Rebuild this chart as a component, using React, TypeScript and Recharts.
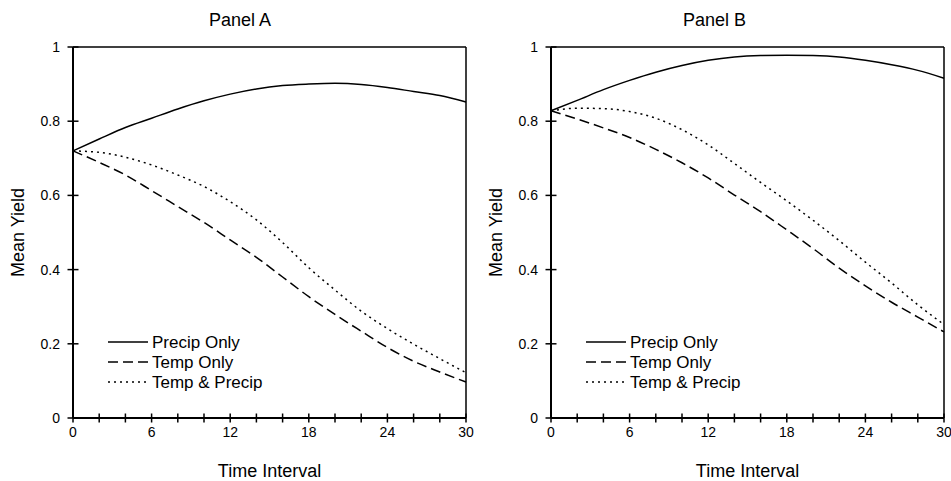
import React from 'react';
import { LineChart, Line, XAxis, YAxis, Legend, ReferenceLine } from 'recharts';

// time interval (x) and axis ticks
const TIME = [0, 2, 4, 6, 8, 10, 12, 14, 16, 18, 20, 22, 24, 26, 28, 30];
const X_TICKS = [0, 2, 4, 6, 8, 10, 12, 14, 16, 18, 20, 22, 24, 26, 28, 30];
const X_LABELED = [0, 6, 12, 18, 24, 30];
const Y_TICKS = [0, 0.2, 0.4, 0.6, 0.8, 1];

// Panel A mean yield
const A_PRECIP = [0.72, 0.752, 0.783, 0.808, 0.833, 0.855, 0.873, 0.887, 0.896, 0.9, 0.902, 0.899, 0.891, 0.88, 0.869, 0.852];
const A_TEMP = [0.72, 0.689, 0.655, 0.613, 0.57, 0.527, 0.48, 0.433, 0.38, 0.327, 0.279, 0.234, 0.19, 0.153, 0.124, 0.097];
const A_BOTH = [0.72, 0.716, 0.703, 0.682, 0.655, 0.624, 0.583, 0.534, 0.473, 0.405, 0.345, 0.288, 0.241, 0.199, 0.16, 0.122];

// Panel B mean yield
const B_PRECIP = [0.828, 0.856, 0.885, 0.91, 0.932, 0.95, 0.964, 0.973, 0.977, 0.978, 0.977, 0.973, 0.964, 0.952, 0.937, 0.916];
const B_TEMP = [0.828, 0.806, 0.782, 0.756, 0.724, 0.688, 0.647, 0.601, 0.556, 0.507, 0.457, 0.404, 0.356, 0.312, 0.272, 0.232];
const B_BOTH = [0.828, 0.835, 0.834, 0.826, 0.808, 0.777, 0.736, 0.686, 0.635, 0.585, 0.533, 0.478, 0.42, 0.364, 0.305, 0.252];

const SERIES = [
  { key: 'precip', name: 'Precip Only', dash: undefined },
  { key: 'temp', name: 'Temp Only', dash: '10 5' },
  { key: 'both', name: 'Temp & Precip', dash: '2 4' },
];

const FONT = '"Liberation Sans", Arial, sans-serif';

const buildRows = (precip: number[], temp: number[], both: number[]) =>
  TIME.map((t, i) => ({ t, precip: precip[i], temp: temp[i], both: both[i] }));

const XTick = (props: any) => {
  const { x, y, payload } = props;
  const show = X_LABELED.includes(payload.value);
  return (
    <g>
      <line x1={x} x2={x} y1={y - 4.5} y2={y + 4.5} stroke="#000" strokeWidth={1.5} />
      {show && (
        <text x={x} y={y + 19} textAnchor="middle" fontSize={14} fontFamily={FONT} fill="#000">
          {payload.value}
        </text>
      )}
    </g>
  );
};

const YTick = (props: any) => {
  const { x, y, payload } = props;
  return (
    <g>
      <line x1={x - 5.5} x2={x + 5.5} y1={y} y2={y} stroke="#000" strokeWidth={1.5} />
      <text x={x - 13} y={y + 5} textAnchor="end" fontSize={14} fontFamily={FONT} fill="#000">
        {payload.value}
      </text>
    </g>
  );
};

const LegendBox = () => (
  <svg width={180} height={62}>
    {SERIES.map((s, i) => (
      <g key={s.key}>
        <line x1={0} x2={40} y1={10 + i * 20} y2={10 + i * 20} stroke="#000" strokeWidth={1.5} strokeDasharray={s.dash} />
        <text x={44} y={16 + i * 20} fontSize={17} fontFamily={FONT} fill="#000">
          {s.name}
        </text>
      </g>
    ))}
  </svg>
);

interface PanelProps {
  title: string;
  left: number;
  width: number;
  right: number;
  data: Array<{ t: number; precip: number; temp: number; both: number }>;
}

const Panel: React.FC<PanelProps> = ({ title, left, width, right, data }) => (
  <div style={{ position: 'absolute', left, top: 0, width, height: 481 }}>
    <div
      style={{
        position: 'absolute',
        top: 10,
        left: 0,
        width,
        textAlign: 'center',
        fontFamily: FONT,
        fontSize: 18,
        lineHeight: '20px',
        color: '#000',
      }}
    >
      {title}
    </div>
    <LineChart
      width={width}
      height={481}
      data={data}
      margin={{ top: 47, right, bottom: 0, left: 0 }}
      style={{ fontFamily: FONT }}
    >
      <XAxis
        dataKey="t"
        type="number"
        domain={[0, 30]}
        ticks={X_TICKS}
        interval={0}
        height={63}
        tickSize={0}
        tickMargin={0}
        tickLine={false}
        tick={<XTick />}
        axisLine={{ stroke: '#000', strokeWidth: 2 }}
        label={{ value: 'Time Interval', position: 'insideBottom', offset: 4, fontSize: 18, fill: '#000' }}
      />
      <YAxis
        type="number"
        domain={[0, 1]}
        ticks={Y_TICKS}
        interval={0}
        width={73}
        tickSize={0}
        tickMargin={0}
        tickLine={false}
        tick={<YTick />}
        axisLine={{ stroke: '#000', strokeWidth: 2 }}
        label={{
          value: 'Mean Yield',
          angle: -90,
          position: 'insideLeft',
          offset: 18,
          fontSize: 18,
          fill: '#000',
          style: { textAnchor: 'middle' },
        }}
      />
      <ReferenceLine y={1} stroke="#000" strokeWidth={1.5} />
      <ReferenceLine x={30} stroke="#000" strokeWidth={1.5} />
      <Legend
        layout="vertical"
        align="center"
        verticalAlign="middle"
        content={<LegendBox />}
        wrapperStyle={{ position: 'absolute', left: 108, top: 332, width: 180, height: 62 }}
      />
      {SERIES.map((s) => (
        <Line
          key={s.key}
          type="monotone"
          dataKey={s.key}
          name={s.name}
          stroke="#000"
          strokeWidth={1.5}
          strokeDasharray={s.dash}
          dot={false}
          activeDot={false}
          isAnimationActive={false}
        />
      ))}
    </LineChart>
  </div>
);

export default function App() {
  return (
    <div style={{ position: 'absolute', left: 0, top: 0, width: 951, height: 481, background: '#fff', overflow: 'hidden' }}>
      <Panel title="Panel A" left={0} width={480} right={14} data={buildRows(A_PRECIP, A_TEMP, A_BOTH)} />
      <Panel title="Panel B" left={478} width={473} right={7} data={buildRows(B_PRECIP, B_TEMP, B_BOTH)} />
    </div>
  );
}
